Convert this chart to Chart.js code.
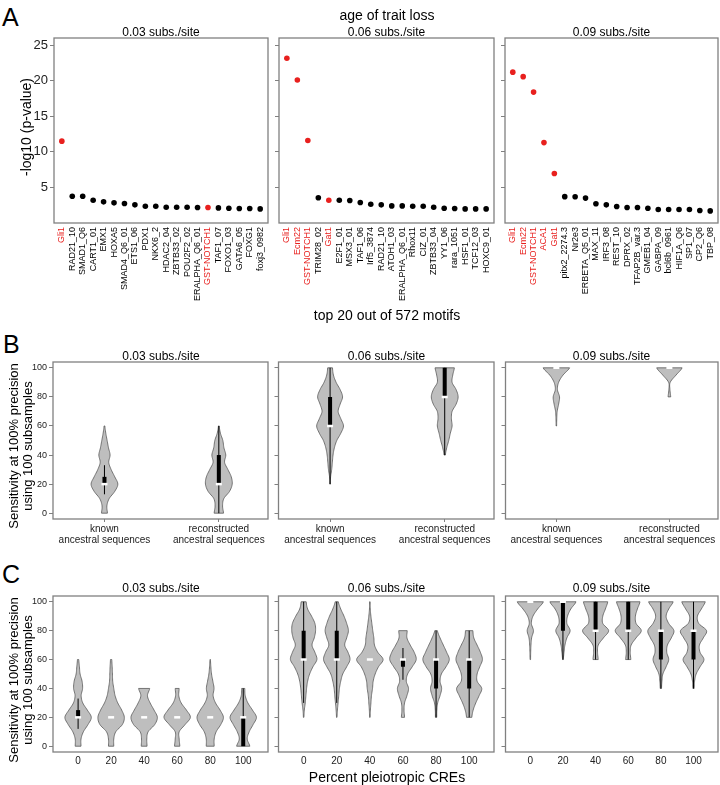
<!DOCTYPE html>
<html>
<head>
<meta charset="utf-8">
<script src="https://cdn.jsdelivr.net/npm/chart.js@4/dist/chart.umd.min.js"></script>
<style>
body { margin: 0; width: 720px; height: 785px; overflow: hidden; background: #fff; position: relative;
       font-family: "Liberation Sans", Arial, sans-serif; }
canvas { position: absolute; }
.t { position: absolute; white-space: nowrap; line-height: 1; color: #000; }
.rot { position: absolute; white-space: nowrap; text-align: center; color: #000;
       transform: translate(-50%, -50%) rotate(-90deg); }
</style>
</head>
<body>
<script>
// ---- Panel A: top 20 motifs per branch length ----
const RED_MOTIFS = ['Gli1', 'Ecm22', 'GST-NOTCH1', 'ACA1', 'Gat1'];
const A_Y_TICKS = [5, 10, 15, 20, 25];

const A_MOTIFS_003 = ['Gli1', 'RAD21_10', 'SMAD1_Q6', 'CART1_01', 'EMX1', 'HOXA5', 'SMAD4_Q6_01', 'ETS1_06', 'PDX1', 'NKX6_2',
    'HDAC2_04', 'ZBTB33_02', 'POU2F2_02', 'ERALPHA_Q6_01', 'GST-NOTCH1', 'TAF1_07', 'FOXO1_03', 'GATA6_05', 'FOXG1', 'foxj3_0982'];
const A_LOGP_003 = [11.5, 3.77, 3.77, 3.2, 2.97, 2.83, 2.74, 2.55, 2.36, 2.36, 2.22, 2.22, 2.22, 2.17, 2.17, 2.12, 2.08, 2.03, 2.03, 1.98];

const A_MOTIFS_006 = ['Gli1', 'Ecm22', 'GST-NOTCH1', 'TRIM28_02', 'Gat1', 'E2F1_01', 'MSX3_01', 'TAF1_06', 'Irf5_3874', 'RAD21_10',
    'ATOH1_03', 'ERALPHA_Q6_01', 'Rhox11', 'CIZ_01', 'ZBTB33_04', 'YY1_06', 'rara_1051', 'HSF1_01', 'TCF12_03', 'HOXC9_01'];
const A_LOGP_006 = [23.16, 20.1, 11.6, 3.54, 3.2, 3.2, 3.16, 2.88, 2.64, 2.55, 2.4, 2.4, 2.36, 2.36, 2.22, 2.08, 2.03, 1.98, 1.98, 1.98];

const A_MOTIFS_009 = ['Gli1', 'Ecm22', 'GST-NOTCH1', 'ACA1', 'Gat1', 'pitx2_2274.3', 'Nr2e3', 'ERBETA_Q5_01', 'MAX_11', 'IRF3_08',
    'REST_10', 'DPRX_02', 'TFAP2B_var.3', 'GMEB1_04', 'GABPA_09', 'bcl6b_0961', 'HIF1A_Q6', 'SP1_07', 'CP2_Q6', 'TBP_08'];
const A_LOGP_009 = [21.2, 20.57, 18.4, 11.3, 6.95, 3.7, 3.68, 3.5, 2.7, 2.55, 2.31, 2.17, 2.17, 2.08, 1.9, 1.9, 1.9, 1.9, 1.75, 1.7];

// ---- Panels B and C: violin profiles (relative width at each sensitivity level) ----
const N = null;
const LEVELS = [0, 5, 10, 15, 20, 25, 30, 35, 40, 45, 50, 55, 60, 65, 70, 75, 80, 85, 90, 95, 100];
const SENS_TICKS = [0, 20, 40, 60, 80, 100];

const B_CATS = [['known', 'ancestral sequences'], ['reconstructed', 'ancestral sequences']];
const B_DENS_003 = [
    [0.22, 0.18, 0.35, 0.77, 1.0, 0.77, 0.5, 0.32, 0.42, 0.3, 0.2, 0.1, 0.03, N, N, N, N, N, N, N, N],
    [0.35, 0.28, 0.37, 0.8, 1.0, 0.93, 0.68, 0.43, 0.52, 0.38, 0.3, 0.12, 0.03, N, N, N, N, N, N, N, N]
];
const B_DENS_006 = [
    [N, N, N, N, 0.02, 0.04, 0.12, 0.17, 0.22, 0.32, 0.5, 0.8, 1.0, 0.8, 0.6, 0.75, 0.93, 0.75, 0.45, 0.25, 0.18],
    [N, N, N, N, N, N, N, N, 0.05, 0.15, 0.3, 0.42, 0.55, 0.5, 0.55, 0.85, 1.0, 0.85, 0.55, 0.6, 0.72]
];
const B_DENS_009 = [
    [N, N, N, N, N, N, N, N, N, N, N, N, 0.02, 0.03, 0.06, 0.17, 0.24, 0.08, 0.17, 0.5, 1.0],
    [N, N, N, N, N, N, N, N, N, N, N, N, N, N, N, N, 0.1, 0.04, 0.06, 0.5, 0.96]
];
// [lower whisker, q1, median, q3, upper whisker]
const B_BOX_003 = [[13, 20, 20, 25, 33], [0, 20, 20, 40, 60]];
const B_BOX_006 = [[20, 60, 60, 80, 100], [40, 80, 80, 100, 100]];
const B_BOX_009 = [[100, 100, 100, 100, 100], [100, 100, 100, 100, 100]];

const C_CATS = ['0', '20', '40', '60', '80', '100'];
const C_DENS_003 = [
    [0.22, 0.22, 0.4, 0.75, 1.0, 0.7, 0.35, 0.23, 0.34, 0.3, 0.15, 0.1, 0.05, N, N, N, N, N, N, N, N],
    [0.2, 0.2, 0.35, 0.85, 1.0, 0.8, 0.5, 0.3, 0.2, 0.12, 0.1, 0.08, 0.05, N, N, N, N, N, N, N, N],
    [0.22, 0.2, 0.3, 0.8, 1.0, 0.75, 0.45, 0.25, 0.42, N, N, N, N, N, N, N, N, N, N, N, N],
    [0.2, 0.15, 0.15, 0.6, 1.0, 0.7, 0.3, 0.12, 0.15, N, N, N, N, N, N, N, N, N, N, N, N],
    [0.3, 0.3, 0.45, 0.8, 1.0, 0.75, 0.4, 0.22, 0.29, 0.2, 0.1, 0.05, 0.02, N, N, N, N, N, N, N, N],
    [0.5, 0.3, 0.45, 0.75, 1.0, 0.7, 0.35, 0.15, 0.12, N, N, N, N, N, N, N, N, N, N, N, N]
];
const C_DENS_006 = [
    [N, N, N, N, 0.02, 0.05, 0.12, 0.17, 0.22, 0.3, 0.45, 0.7, 1.0, 0.85, 0.63, 0.8, 0.9, 0.85, 0.6, 0.3, 0.19],
    [N, N, N, N, 0.02, 0.05, 0.1, 0.15, 0.2, 0.3, 0.45, 0.75, 1.0, 0.85, 0.6, 0.75, 0.88, 0.75, 0.55, 0.3, 0.12],
    [N, N, N, N, 0.02, 0.04, 0.08, 0.12, 0.2, 0.25, 0.4, 0.65, 1.0, 0.6, 0.35, 0.3, 0.22, 0.15, 0.08, 0.03, 0.02],
    [N, N, N, N, 0.12, 0.08, 0.12, 0.3, 0.42, 0.25, 0.35, 0.7, 1.0, 0.85, 0.55, 0.3, 0.32, N, N, N, N],
    [N, N, N, N, 0.05, 0.06, 0.12, 0.3, 0.42, 0.3, 0.4, 0.75, 1.0, 0.8, 0.55, 0.3, 0.1, N, N, N, N],
    [N, N, N, N, 0.2, 0.3, 0.5, 0.75, 0.95, 0.6, 0.6, 0.8, 1.0, 0.85, 0.6, 0.35, 0.28, N, N, N, N]
];
const C_DENS_009 = [
    [N, N, N, N, N, N, N, N, N, N, N, N, 0.02, 0.03, 0.05, 0.1, 0.24, 0.08, 0.2, 0.56, 1.0],
    [N, N, N, N, N, N, N, N, N, N, N, N, 0.03, 0.08, 0.15, 0.3, 0.55, 0.3, 0.35, 0.6, 1.0],
    [N, N, N, N, N, N, N, N, N, N, N, N, 0.2, 0.15, 0.2, 0.6, 1.0, 0.55, 0.55, 0.75, 0.93],
    [N, N, N, N, N, N, N, N, N, N, N, N, 0.2, 0.15, 0.22, 0.6, 1.0, 0.6, 0.55, 0.7, 0.9],
    [N, N, N, N, N, N, N, N, 0.05, 0.08, 0.15, 0.4, 0.6, 0.45, 0.5, 0.8, 1.0, 0.6, 0.4, 0.6, 0.94],
    [N, N, N, N, N, N, N, N, 0.05, 0.08, 0.2, 0.5, 0.8, 0.5, 0.45, 0.75, 1.0, 0.4, 0.3, 0.6, 0.9]
];
const C_BOX_003 = [[12, 20, 20, 25, 33], [20, 20, 20, 20, 20], [20, 20, 20, 20, 20],
    [20, 20, 20, 20, 20], [20, 20, 20, 20, 20], [20, 0, 20, 20, 40]];
const C_BOX_006 = [[30, 60, 60, 80, 100], [30, 60, 60, 80, 100], [60, 60, 60, 60, 60],
    [46, 55, 60, 60, 68], [20, 40, 60, 60, 80], [20, 40, 60, 60, 80]];
const C_BOX_009 = [[100, 100, 100, 100, 100], [60, 80, 100, 100, 100], [60, 80, 80, 100, 100],
    [60, 80, 80, 100, 100], [40, 60, 80, 80, 100], [40, 60, 80, 80, 100]];

// ---- layout (pixels) ----
const PAD_TOP = 12, PAD_RIGHT = 10;
const GREY = '#808080', RED = '#e8201e';
const ROW_A = { top: 38, bottom: 223, xh: 90 };
const ROW_B = { top: 362, bottom: 519, xh: 36 };
const ROW_C = { top: 596, bottom: 752, xh: 24 };
const COLS_A = [{ l: 54, r: 268, yw: 30 }, { l: 279, r: 494, yw: 6 }, { l: 505, r: 718, yw: 6 }];
const COLS_BC = [{ l: 53, r: 268, yw: 26 }, { l: 278, r: 494, yw: 6 }, { l: 505, r: 718, yw: 6 }];

Chart.defaults.font.family = '"Liberation Sans", Arial, sans-serif';
Chart.defaults.color = '#000';
Chart.defaults.animation = false;
Chart.defaults.events = [];
Chart.defaults.plugins.legend.display = false;
Chart.defaults.plugins.tooltip.enabled = false;

function text(str, x, baseline, size, center) {
    const d = document.createElement('div');
    d.className = 't';
    d.textContent = str;
    d.style.fontSize = size + 'px';
    d.style.top = (baseline - 0.8465 * size) + 'px';
    d.style.left = x + 'px';
    if (center) d.style.transform = 'translateX(-50%)';
    document.body.appendChild(d);
}

function rotText(lines, cx, cy, size, lh) {
    const d = document.createElement('div');
    d.className = 'rot';
    d.innerHTML = lines.join('<br>');
    d.style.fontSize = size + 'px';
    d.style.lineHeight = lh + 'px';
    d.style.left = cx + 'px';
    d.style.top = cy + 'px';
    document.body.appendChild(d);
}

function makeCanvas(col, row) {
    const c = document.createElement('canvas');
    const w = col.yw + (col.r - col.l) + PAD_RIGHT;
    const h = PAD_TOP + (row.bottom - row.top) + row.xh;
    c.width = w; c.height = h;
    c.style.left = (col.l - col.yw) + 'px';
    c.style.top = (row.top - PAD_TOP) + 'px';
    document.body.appendChild(c);
    return c;
}

// box round the plot area
const framePlugin = {
    id: 'frame',
    afterDraw(chart) {
        const { ctx, chartArea: a } = chart;
        ctx.save();
        ctx.strokeStyle = GREY;
        ctx.lineWidth = 1.3;
        ctx.strokeRect(a.left, a.top, a.right - a.left, a.bottom - a.top);
        ctx.restore();
    }
};

// smooth a width profile between the read levels (Catmull-Rom)
function profile(w) {
    const idx = w.map((v, i) => v == null ? -1 : i).filter(i => i >= 0);
    const a = idx[0], b = idx[idx.length - 1];
    const out = [];
    for (let i = a; i < b; i++) {
        const p0 = w[Math.max(i - 1, a)], p1 = w[i], p2 = w[i + 1], p3 = w[Math.min(i + 2, b)];
        for (let s = 0; s < 6; s++) {
            const t = s / 6, t2 = t * t, t3 = t2 * t;
            const v = 0.5 * (2 * p1 + (-p0 + p2) * t + (2 * p0 - 5 * p1 + 4 * p2 - p3) * t2 + (-p0 + 3 * p1 - 3 * p2 + p3) * t3);
            out.push({ v: LEVELS[i] + (LEVELS[i + 1] - LEVELS[i]) * t, w: Math.max(v, 0.01) });
        }
    }
    out.push({ v: LEVELS[b], w: w[b] });
    return out;
}

function violinPlugin(dens, halfWidth) {
    return {
        id: 'violins',
        beforeDatasetsDraw(chart) {
            const { ctx, scales: { x, y } } = chart;
            ctx.save();
            ctx.fillStyle = '#bebebe';
            ctx.strokeStyle = '#595959';
            ctx.lineWidth = 0.8;
            dens.forEach((w, i) => {
                const c = i + 1;
                const pts = profile(w);
                ctx.beginPath();
                pts.forEach((p, k) => {
                    const px = x.getPixelForValue(c + p.w * halfWidth), py = y.getPixelForValue(p.v);
                    if (k === 0) ctx.moveTo(px, py); else ctx.lineTo(px, py);
                });
                for (let k = pts.length - 1; k >= 0; k--) {
                    const p = pts[k];
                    ctx.lineTo(x.getPixelForValue(c - p.w * halfWidth), y.getPixelForValue(p.v));
                }
                ctx.closePath();
                ctx.fill();
                ctx.stroke();
            });
            ctx.restore();
        }
    };
}

function boxDatasets(stats) {
    const sets = [];
    stats.forEach((s, i) => {
        const c = i + 1;
        const [lo, q1, med, q3, hi] = s;
        if (hi > lo) sets.push({ type: 'line', data: [{ x: c, y: lo }, { x: c, y: hi }],
            borderColor: '#000', borderWidth: 1, pointRadius: 0, order: 3 });
        if (q3 > q1) sets.push({ type: 'line', data: [{ x: c, y: q1 }, { x: c, y: q3 }],
            borderColor: '#000', borderWidth: 4, pointRadius: 0, order: 2 });
    });
    sets.push({ type: 'scatter', data: stats.map((s, i) => ({ x: i + 1, y: s[2] })),
        pointStyle: 'line', pointRadius: 3, pointBorderColor: '#fff', pointBorderWidth: 2.5, order: 1 });
    return sets;
}

function yAxis(min, max, tickVals, width, showLabels, size) {
    return {
        min: min, max: max,
        afterBuildTicks: s => { s.ticks = tickVals.map(v => ({ value: v })); },
        afterFit: s => { s.width = width; },
        border: { display: false },
        grid: { drawOnChartArea: false, drawTicks: true, tickLength: 4, tickColor: GREY, color: GREY },
        ticks: { font: { size: size }, color: '#222', padding: 2, callback: v => showLabels ? v : '' }
    };
}

function motifChart(col, names, values, showY) {
    const canvas = makeCanvas(col, ROW_A);
    new Chart(canvas, {
        type: 'scatter',
        data: {
            datasets: [{
                data: values.map((v, i) => ({ x: i + 1, y: v })),
                pointRadius: 2.8,
                pointBorderWidth: 0,
                pointBackgroundColor: names.map(n => RED_MOTIFS.includes(n) ? RED : '#000')
            }]
        },
        options: {
            responsive: false,
            devicePixelRatio: 1,
            layout: { padding: { top: PAD_TOP, right: PAD_RIGHT, left: 0, bottom: 0 } },
            scales: {
                x: {
                    min: 0.25, max: 20.75,
                    afterBuildTicks: s => { s.ticks = names.map((n, i) => ({ value: i + 1 })); },
                    afterFit: s => { s.height = ROW_A.xh; },
                    border: { display: false },
                    grid: { display: false, drawTicks: false },
                    ticks: {
                        autoSkip: false, minRotation: 90, maxRotation: 90, padding: 4,
                        font: { size: 9 },
                        color: ctx => RED_MOTIFS.includes(names[ctx.index]) ? RED : '#000',
                        callback: (v, i) => names[i]
                    }
                },
                y: yAxis(0, 26, A_Y_TICKS, col.yw, showY, 13)
            }
        },
        plugins: [framePlugin]
    });
}

function violinChart(col, row, cats, dens, stats, xMin, xMax, halfWidth, showY, bLabels) {
    const canvas = makeCanvas(col, row);
    new Chart(canvas, {
        type: 'scatter',
        data: { datasets: boxDatasets(stats) },
        options: {
            responsive: false,
            devicePixelRatio: 1,
            layout: { padding: { top: PAD_TOP, right: PAD_RIGHT, left: 0, bottom: 0 } },
            scales: {
                x: {
                    min: xMin, max: xMax,
                    afterBuildTicks: s => { s.ticks = cats.map((c, i) => ({ value: i + 1 })); },
                    afterFit: s => { s.height = row.xh; },
                    border: { display: false },
                    grid: { drawOnChartArea: false, drawTicks: bLabels, tickLength: 3, tickColor: GREY },
                    ticks: {
                        autoSkip: false, maxRotation: 0, padding: bLabels ? 2 : 4,
                        font: { size: 10, lineHeight: 1.1 }, color: '#222',
                        callback: (v, i) => cats[i]
                    }
                },
                y: yAxis(-4, 104, SENS_TICKS, col.yw, showY, 9)
            }
        },
        plugins: [violinPlugin(dens, halfWidth), framePlugin]
    });
}

// panel A
motifChart(COLS_A[0], A_MOTIFS_003, A_LOGP_003, true);
motifChart(COLS_A[1], A_MOTIFS_006, A_LOGP_006, false);
motifChart(COLS_A[2], A_MOTIFS_009, A_LOGP_009, false);

// panel B
violinChart(COLS_BC[0], ROW_B, B_CATS, B_DENS_003, B_BOX_003, 0.55, 2.43, 0.117, true, true);
violinChart(COLS_BC[1], ROW_B, B_CATS, B_DENS_006, B_BOX_006, 0.55, 2.43, 0.117, false, true);
violinChart(COLS_BC[2], ROW_B, B_CATS, B_DENS_009, B_BOX_009, 0.55, 2.43, 0.117, false, true);

// panel C
violinChart(COLS_BC[0], ROW_C, C_CATS, C_DENS_003, C_BOX_003, 0.24, 6.75, 0.4, true, false);
violinChart(COLS_BC[1], ROW_C, C_CATS, C_DENS_006, C_BOX_006, 0.24, 6.75, 0.4, false, false);
violinChart(COLS_BC[2], ROW_C, C_CATS, C_DENS_009, C_BOX_009, 0.24, 6.75, 0.4, false, false);

// titles and labels
text('A', 2, 26, 25, false);
text('B', 3, 353, 25, false);
text('C', 2, 583, 25, false);
text('age of trait loss', 387, 20, 14, true);
text('top 20 out of 572 motifs', 387, 320, 14, true);
text('Percent pleiotropic CREs', 387, 782, 14, true);
const SUBTITLES = ['0.03 subs./site', '0.06 subs./site', '0.09 subs./site'];
const SUB_X = [161, 386.5, 611.5];
[36, 360, 592].forEach(b => SUBTITLES.forEach((s, i) => text(s, SUB_X[i], b, 12, true)));
rotText(['-log10 (p-value)'], 26, 127, 14, 16);
rotText(['Sensitivity at 100% precision', 'using 100 subsamples'], 20.5, 446, 13, 14);
rotText(['Sensitivity at 100% precision', 'using 100 subsamples'], 20.5, 680, 13, 14);
</script>
</body>
</html>
